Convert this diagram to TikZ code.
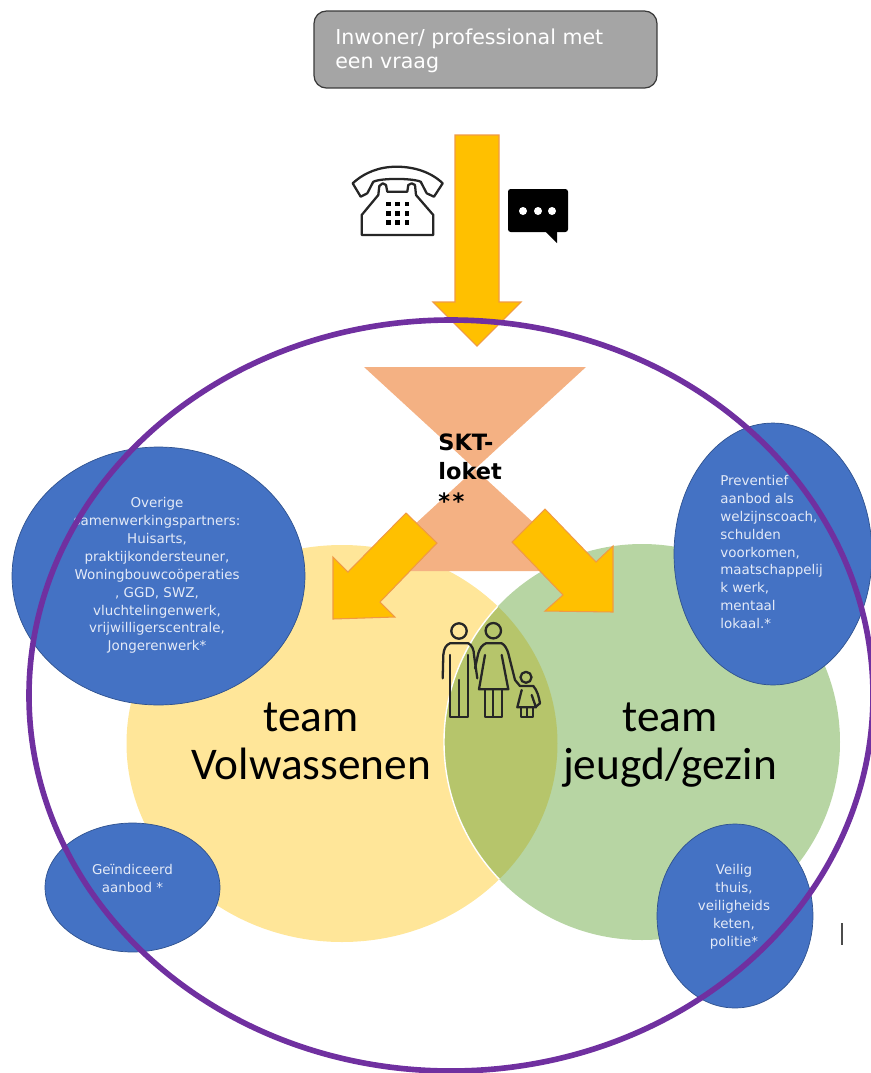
\documentclass[tikz,border=0pt]{standalone}
\usepackage{fontspec}
\setmainfont{DejaVu Sans}
\newfontfamily\teamfont{Carlito}
\usetikzlibrary{shapes.geometric}
\definecolor{boxgrey}{HTML}{A5A5A5}
\definecolor{boxline}{HTML}{3A3A3A}
\definecolor{arrowgold}{HTML}{FFC000}
\definecolor{arrowline}{HTML}{F09A45}
\definecolor{lokethue}{HTML}{F4B183}
\definecolor{teamyellow}{HTML}{FFE699}
\definecolor{teamgreen}{HTML}{B7D5A3}
\definecolor{teamoverlap}{HTML}{B6C56B}
\definecolor{partnerblue}{HTML}{4472C4}
\definecolor{partnerline}{HTML}{2F528F}
\definecolor{ringpurple}{HTML}{7030A0}
\definecolor{partnertext}{HTML}{E4EAF7}
\begin{document}
\begin{tikzpicture}[x=0.02cm,y=-0.02cm]
\tikzset{question/.style = {shape=rectangle,rounded corners=7pt,draw=boxline,line width=0.7pt,fill=boxgrey,minimum width=6.86cm,minimum height=1.54cm}}
\tikzset{questiontext/.style = {text=white,align=left,anchor=north west,inner sep=0pt,font=\fontsize{11.7}{13.6}\selectfont}}
\tikzset{blockarrow/.style = {fill=arrowgold,draw=arrowline,line width=0.6pt,line join=miter}}
\tikzset{partner/.style = {shape=ellipse,fill=partnerblue,draw=partnerline,line width=0.4pt,inner sep=0pt}}
\tikzset{partnertxt/.style = {text=partnertext,inner sep=0pt,font=\fontsize{7.65}{10.2}\selectfont}}
\tikzset{teamtxt/.style = {inner sep=0pt,align=center,anchor=north,font=\teamfont\fontsize{25.8}{27.8}\selectfont}}
\tikzset{icon/.style = {draw=black!85,line width=1.3pt,line join=round,line cap=round}}
\useasboundingbox (0,0) rectangle (871,1073);
% teams
\fill[teamyellow] (342,743.5) ellipse [x radius=215.5,y radius=198.5];
\fill[teamgreen] (642,742) ellipse [x radius=198,y radius=198];
\begin{scope}
\clip (342,743.5) ellipse [x radius=215.5,y radius=198.5];
\fill[teamoverlap] (642,742) ellipse [x radius=198,y radius=198];
\draw[white,line width=0.8pt] (642,742) ellipse [x radius=198,y radius=198];
\end{scope}
% loket
\fill[lokethue] (364,367) -- (586,367) -- (364,571) -- (586,571) -- cycle;
% question
\node[question] (vraag) at (485.5,49.5) {};
\node[questiontext] (vraagtext) at (335,29) {Inwoner/ professional met\\een vraag};
% arrows
\draw[blockarrow] (455,135) -- (499,135) -- (499,302) -- (521,302) -- (477,346) -- (433,302) -- (455,302) -- cycle;
\draw[blockarrow] (406,513) -- (437,543) -- (380,602) -- (395,617) -- (333,619) -- (333,557) -- (348,572) -- cycle;
\draw[blockarrow] (545,509) -- (512,542) -- (563,595) -- (545,611) -- (613,612) -- (613,546) -- (596,562) -- cycle;
% phone
\draw[icon] (360.7,196.7) -- (352.7,183.3) .. controls (365,172) and (380,166.7) .. (396.7,166.7) .. controls (414,166.7) and (431,172) .. (442.7,183.3) -- (434,196.7) -- (426.7,193.3) -- (420.7,181.7) .. controls (412,178) and (381,178) .. (373.3,181.7) -- (367.3,193.3) -- cycle;
\draw[icon] (361.7,235) -- (433.3,235) -- (433.3,215) -- (416,195) -- (415,185) -- (411.7,183.3) -- (408.3,185) -- (407.3,191.7) -- (387.3,191.7) -- (386,185) -- (382.7,183.3) -- (379.3,186) -- (378.3,195) -- (361.7,215) -- cycle;
\foreach \i in {388.3,397.7,407}
  \foreach \j in {204,213.3,222.7}
    \fill[black] (\i-2.3,\j-2.3) rectangle (\i+2.3,\j+2.3);
% chat
\fill[black,rounded corners=1.5pt] (508,189) rectangle (568,232);
\fill[black] (545,231) -- (557,243) -- (557,231) -- cycle;
\foreach \i in {523,538,552}
  \fill[white] (\i,211) circle [radius=4];
% family
\draw[icon] (459,631) circle [radius=7.7];
\draw[icon] (442.7,678.3) -- (443.3,655) .. controls (444,648) and (446,645) .. (450,643.3) -- (468.3,643.3) .. controls (472,645) and (474,650) .. (474,655) -- (477.3,678.3);
\draw[icon] (450,655) -- (450,716.7) -- (468.3,716.7) -- (468.3,655);
\draw[icon] (459,680) -- (459,716.7);
\draw[icon] (493.3,630.7) circle [radius=7.7];
\draw[icon] (475,668.3) -- (478.3,653.3) .. controls (480,648) and (482,645) .. (486,643.3) -- (501.7,643.3) .. controls (505,645) and (507,649) .. (508.3,653.3) -- (515,680) -- (520,686);
\draw[icon] (485,655) -- (479,689.3) -- (508.3,689.3) -- (501.7,655);
\draw[icon] (485,689.3) -- (485,716.7) -- (501.7,716.7) -- (501.7,689.3);
\draw[icon] (493.3,689.3) -- (493.3,716.7);
\draw[icon] (526,677.3) circle [radius=5.5];
\draw[icon] (520,686) -- (533.3,686) .. controls (537,690) and (539,697) .. (540,703.3) -- (536.7,706);
\draw[icon] (521.7,690) -- (517.3,707.3) -- (536,707.3) -- (531.7,695);
\draw[icon] (520.7,707.3) -- (520.7,716.7) -- (533.3,716.7) -- (533.3,707.3);
\draw[icon] (527,707.3) -- (527,716.7);
% labels
\node[inner sep=0pt,align=left,anchor=north west,font=\bfseries\fontsize{12.8}{17}\selectfont] (loket) at (438,433) {SKT-\\loket\\*\kern1.5pt*};
\node[teamtxt] (volw) at (311,702) {team\\Volwassenen};
\node[teamtxt] (jeugd) at (670,702) {team\\jeugd/gezin};
% partners
\node[partner,minimum width=5.86cm,minimum height=5.16cm] (overig) at (158.5,576) {};
\node[partner,minimum width=3.96cm,minimum height=5.24cm] (preventief) at (773,554) {};
\node[partner,minimum width=3.5cm,minimum height=2.58cm] (geind) at (132.5,887.5) {};
\node[partner,minimum width=3.12cm,minimum height=3.68cm] (veilig) at (735,916) {};
\node[partnertxt,align=center] (overigtxt) at (157,575.5) {Overige\\samenwerkingspartners:\\Huisarts,\\praktijkondersteuner,\\Woningbouwcoöperaties\\, GGD, SWZ,\\vluchtelingenwerk,\\vrijwilligerscentrale,\\Jongerenwerk*};
\node[partnertxt,align=left,anchor=west] (preventieftxt) at (720,552) {Preventief\\aanbod als\\welzijnscoach,\\schulden\\voorkomen,\\maatschappelij\\k werk,\\mentaal\\lokaal.*};
\node[partnertxt,align=center] (geindtxt) at (132.5,878.5) {Geïndiceerd\\aanbod *};
\node[partnertxt,align=center] (veiligtxt) at (734,906.5) {Veilig\\thuis,\\veiligheids\\keten,\\politie*};
% ring
\draw[ringpurple,line width=3.2pt] (451,695.5) ellipse [x radius=422,y radius=375.5];
\draw[black!70,line width=0.6pt] (842,923) -- (842,945);
\end{tikzpicture}
\end{document}
